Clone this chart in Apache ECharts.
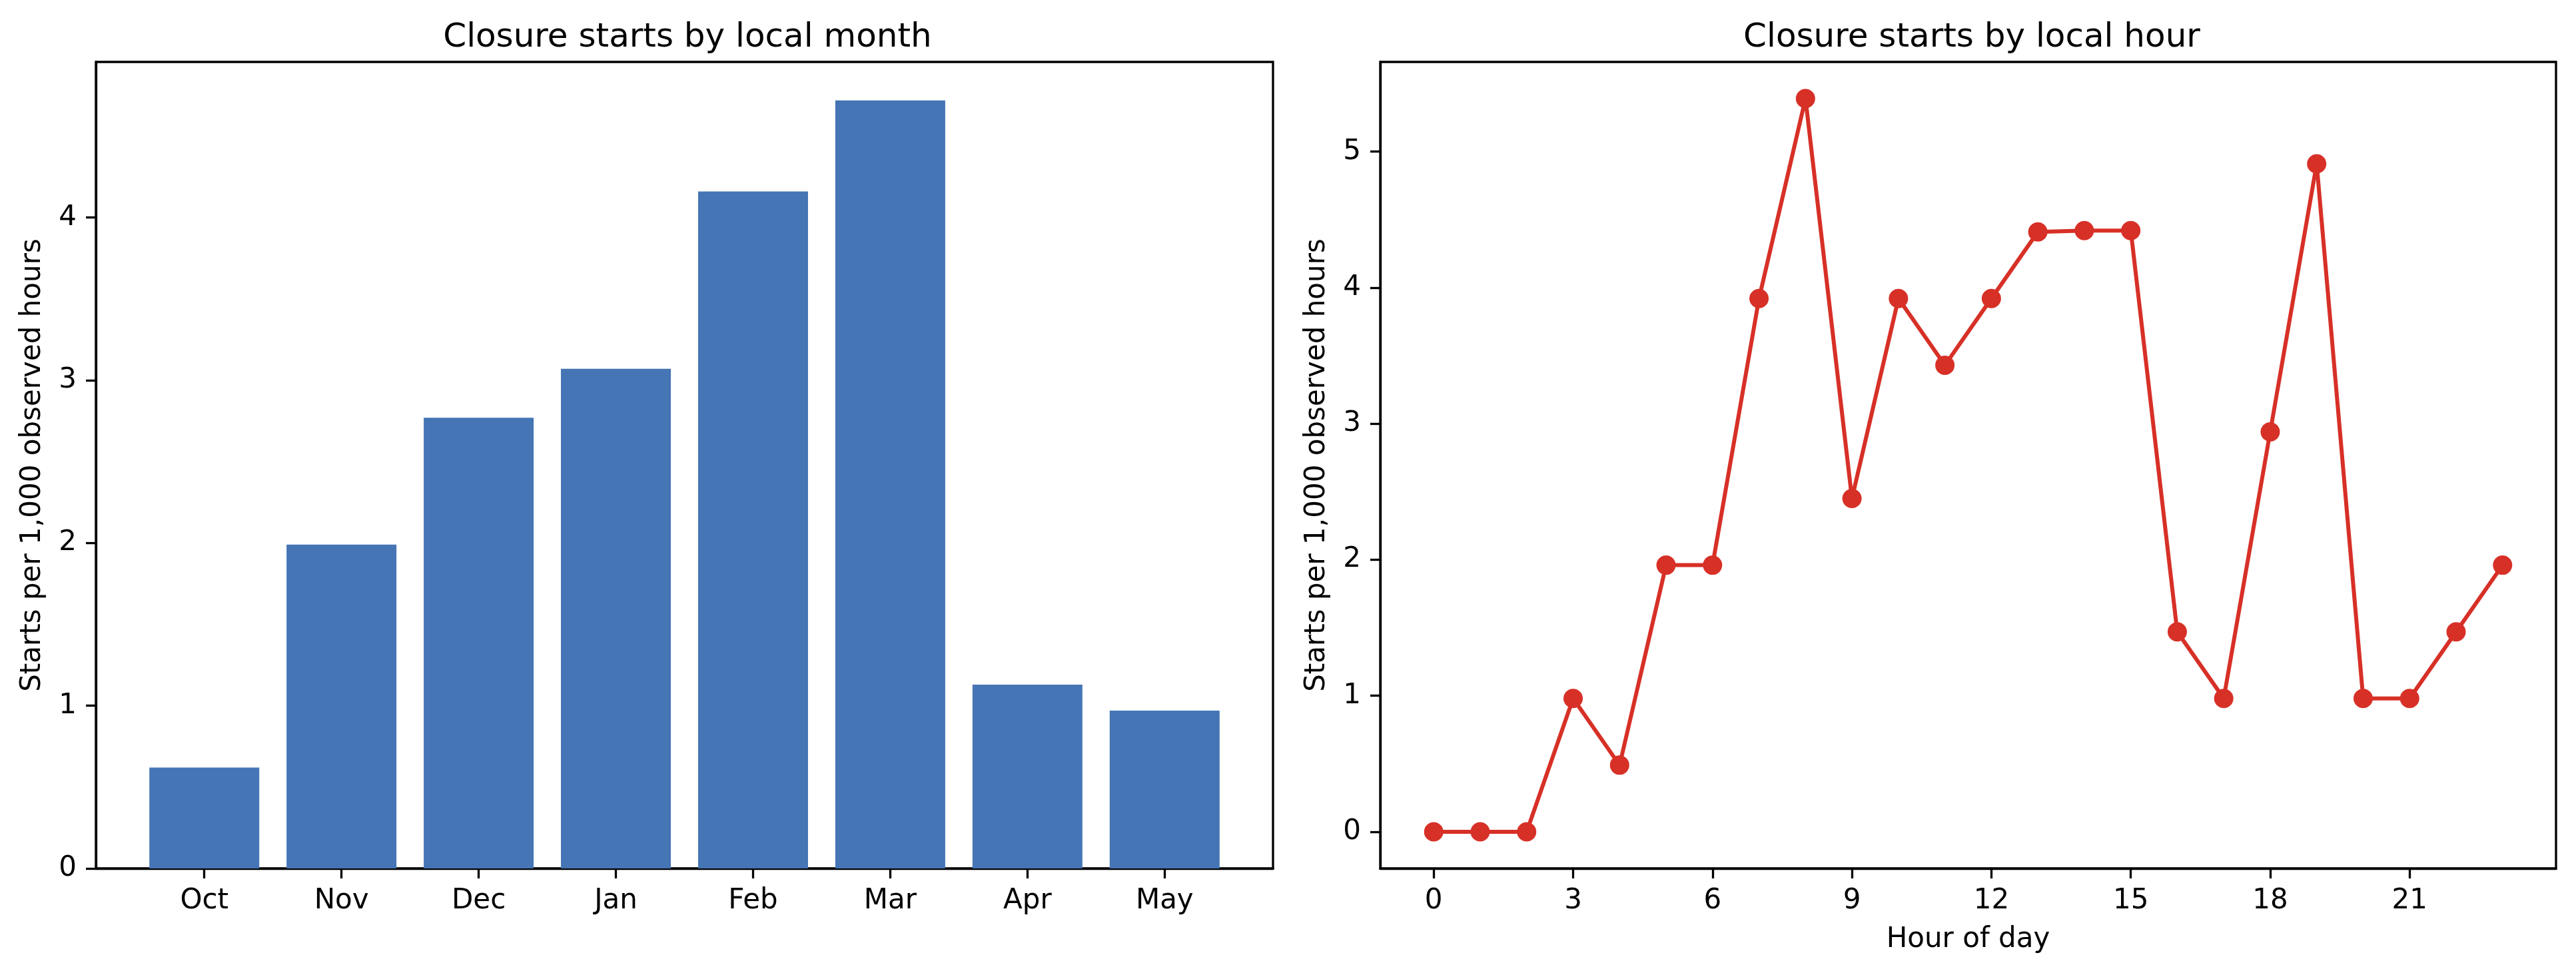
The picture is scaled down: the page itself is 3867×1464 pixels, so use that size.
<!DOCTYPE html>
<html>
<head>
<meta charset="utf-8">
<script src="https://cdn.jsdelivr.net/npm/echarts@6/dist/echarts.min.js"></script>
<style>
  html, body { margin: 0; padding: 0; background: #fff; }
  #chart { width: 3867px; height: 1464px; }
</style>
</head>
<body>
<div id="chart"></div>
<script>
const months = ['Oct', 'Nov', 'Dec', 'Jan', 'Feb', 'Mar', 'Apr', 'May']
const monthRates = [0.62, 1.99, 2.77, 3.07, 4.16, 4.72, 1.13, 0.97]

const hours = [0, 1, 2, 3, 4, 5, 6, 7, 8, 9, 10, 11, 12, 13, 14, 15, 16, 17, 18, 19, 20, 21, 22, 23]
const hourRates = [0, 0, 0, 0.98, 0.49, 1.96, 1.96, 3.92, 5.39, 2.45, 3.92, 3.43, 3.92, 4.41, 4.42, 4.42, 1.47, 0.98, 2.94, 4.91, 0.98, 0.98, 1.47, 1.96]

const monthYTicks = [0, 1, 2, 3, 4]
const hourYTicks = [0, 1, 2, 3, 4, 5]
const hourXTicks = [0, 3, 6, 9, 12, 15, 18, 21]

const FONT = 'DejaVu Sans'
const BLUE = '#4575b4'
const RED = '#d73027'

// matplotlib-style 5% margins
const monthYMax = Math.max(...monthRates) * 1.05
const monthXMin = -0.4 - 0.39
const monthXMax = 7.4 + 0.39
const hourSpanY = Math.max(...hourRates) - Math.min(...hourRates)
const hourYMin = Math.min(...hourRates) - 0.05 * hourSpanY
const hourYMax = Math.max(...hourRates) + 0.05 * hourSpanY
const hourXMin = -0.05 * 23
const hourXMax = 23 + 0.05 * 23

const tickStyle = { show: true, length: 15, lineStyle: { color: '#000', width: 3.3 } }
const lineStyle = { show: true, onZero: false, lineStyle: { color: '#000', width: 3.3 } }
const labelStyle = { color: '#000', fontFamily: FONT, fontSize: 42 }

const chart = echarts.init(document.getElementById('chart'))

chart.setOption({
  backgroundColor: '#fff',
  animation: false,
  title: [
    { text: 'Closure starts by local month', left: 1027, top: 27, textAlign: 'center',
      textStyle: { fontFamily: FONT, fontSize: 50, fontWeight: 'normal', color: '#000' } },
    { text: 'Closure starts by local hour', left: 2955, top: 27, textAlign: 'center',
      textStyle: { fontFamily: FONT, fontSize: 50, fontWeight: 'normal', color: '#000' } },
  ],
  grid: [
    { left: 144, top: 93, width: 1767, height: 1211, show: true, borderColor: '#000', borderWidth: 3.3, backgroundColor: 'transparent' },
    { left: 2072, top: 93, width: 1765, height: 1211, show: true, borderColor: '#000', borderWidth: 3.3, backgroundColor: 'transparent' },
  ],
  xAxis: [
    {
      type: 'value', gridIndex: 0, min: monthXMin, max: monthXMax,
      axisLine: lineStyle,
      axisTick: { ...tickStyle, customValues: months.map((m, i) => i) },
      axisLabel: { ...labelStyle, margin: 28, customValues: months.map((m, i) => i),
        formatter: v => months[Math.round(v)] },
      splitLine: { show: false },
    },
    {
      type: 'value', gridIndex: 1, min: hourXMin, max: hourXMax,
      name: 'Hour of day', nameLocation: 'middle', nameGap: 86,
      nameTextStyle: { ...labelStyle },
      axisLine: lineStyle,
      axisTick: { ...tickStyle, customValues: hourXTicks },
      axisLabel: { ...labelStyle, margin: 28, customValues: hourXTicks },
      splitLine: { show: false },
    },
  ],
  yAxis: [
    {
      type: 'value', gridIndex: 0, min: 0, max: monthYMax,
      name: 'Starts per 1,000 observed hours', nameLocation: 'middle', nameGap: 74,
      nameTextStyle: { ...labelStyle },
      axisLine: lineStyle,
      axisTick: { ...tickStyle, customValues: monthYTicks },
      axisLabel: { ...labelStyle, margin: 29, customValues: monthYTicks },
      splitLine: { show: false },
    },
    {
      type: 'value', gridIndex: 1, min: hourYMin, max: hourYMax,
      name: 'Starts per 1,000 observed hours', nameLocation: 'middle', nameGap: 74,
      nameTextStyle: { ...labelStyle },
      axisLine: lineStyle,
      axisTick: { ...tickStyle, customValues: hourYTicks },
      axisLabel: { ...labelStyle, margin: 29, customValues: hourYTicks },
      splitLine: { show: false },
    },
  ],
  series: [
    {
      name: 'month', type: 'bar', xAxisIndex: 0, yAxisIndex: 0,
      data: monthRates.map((v, i) => [i, v]),
      barWidth: 165,
      itemStyle: { color: BLUE },
    },
    {
      name: 'hour', type: 'line', xAxisIndex: 1, yAxisIndex: 1,
      data: hourRates.map((v, i) => [hours[i], v]),
      symbol: 'circle', symbolSize: 29, showAllSymbol: true,
      lineStyle: { color: RED, width: 6 },
      itemStyle: { color: RED },
    },
  ],
})
</script>
</body>
</html>
